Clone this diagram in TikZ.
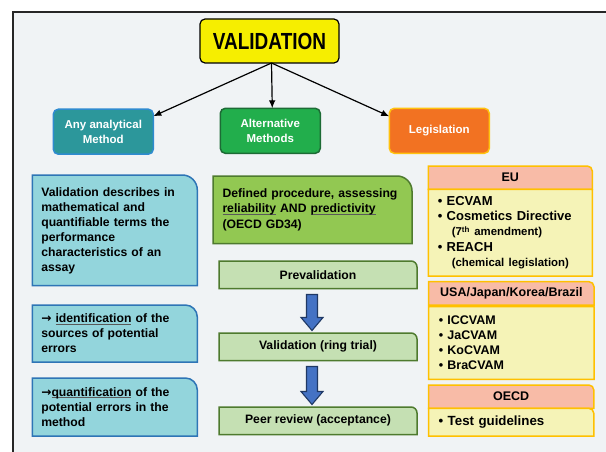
\documentclass[tikz,border=0pt]{standalone}
\usepackage{graphicx}
\usepackage{fontspec}
\setmainfont{Liberation Sans}
\newfontfamily\arrowfont{DejaVu Sans}
\usetikzlibrary{positioning, arrows.meta, calc}

\definecolor{bgcol}{HTML}{F0F3F5}
\definecolor{valfill}{HTML}{F6EE00}
\definecolor{anyfill}{HTML}{2C979B}
\definecolor{anyline}{HTML}{2F8BD0}
\definecolor{altfill}{HTML}{22AE4C}
\definecolor{altline}{HTML}{1D6B35}
\definecolor{legfill}{HTML}{F27222}
\definecolor{legline}{HTML}{FFC20E}
\definecolor{lfill}{HTML}{93D5DC}
\definecolor{lline}{HTML}{2E75B6}
\definecolor{deffill}{HTML}{92C852}
\definecolor{stepfill}{HTML}{C5E0B3}
\definecolor{stepline}{HTML}{4E7A2E}
\definecolor{arrfill}{HTML}{4472C4}
\definecolor{arrline}{HTML}{1F3864}
\definecolor{headfill}{HTML}{F8BBA7}
\definecolor{bodyfill}{HTML}{F5F3B7}
\definecolor{rline}{HTML}{FFC000}

\pgfdeclarelayer{boxes}
\pgfsetlayers{boxes,main}

% underline just below the baseline
\newsavebox\ulbox
\newcommand\ulword[1]{\sbox\ulbox{#1}\leavevmode
  \rlap{\color{black!65}\rule[-1.7pt]{\wd\ulbox}{0.8pt}}\usebox\ulbox}
\newcommand\rarr{{\arrowfont\bfseries →}}

% box with only the top right corner rounded, drawn under the node text
\newcommand\tabbox[3]{%
  \begin{pgfonlayer}{boxes}
    \draw[#3] (#1.south west) -- (#1.north west) -- ([xshift=-#2]#1.north east)
      arc[start angle=90, end angle=0, radius=#2] -- (#1.south east) -- cycle;
  \end{pgfonlayer}}

% thick blue arrow between two step boxes
\newcommand\blockarrow[2]{%
  \draw[barrow] let \p1=(#1.south), \p2=(#2.north) in
    (\x1-11.5pt,\y1-6pt) -- (\x1-0.5pt,\y1-6pt) -- (\x1-0.5pt,\y2+15.5pt)
    -- (\x1+5pt,\y2+15.5pt) -- (\x1-6pt,\y2+2.5pt) -- (\x1-17pt,\y2+15.5pt)
    -- (\x1-11.5pt,\y2+15.5pt) -- cycle;}

\begin{document}
\begin{tikzpicture}[x=1pt, y=1pt,
    every node/.style={outer sep=0pt, inner sep=0pt},
    hdr/.style={draw, rounded corners=5pt, line width=1.5pt, minimum width=100pt,
      minimum height=45pt, text=white, align=center,
      font=\bfseries\fontsize{11.5}{15}\selectfont},
    lbox/.style={minimum width=165pt, text width=147pt, inner xsep=9pt, align=left,
      font=\bfseries\fontsize{12.2}{15}\selectfont},
    stepbox/.style={minimum width=198pt, minimum height=27.5pt, align=center,
      font=\bfseries\fontsize{12.2}{15}\selectfont},
    rhead/.style={minimum width=164pt, minimum height=23.3pt, align=center,
      font=\bfseries\fontsize{12.5}{15}\selectfont},
    rbody/.style={minimum width=164pt, text width=145pt, inner xsep=9.5pt, align=left},
    barrow/.style={fill=arrfill, draw=arrline, line width=1.1pt, line join=miter},
    link/.style={line width=1.2pt, -{Latex[length=8pt, width=6.5pt]}}]

    \useasboundingbox (0,0) rectangle (606,-452);
    \begin{pgfonlayer}{boxes}
      \fill[white] (0,0) rectangle (606,-452);
      \fill[bgcol] (13,-12) rectangle (606,-452);
      \draw[line width=2pt, black!85] (606,-12) -- (13,-12) -- (13,-452);
    \end{pgfonlayer}

    % top of the tree
    \node(val)[draw, line width=1.2pt, rounded corners=5pt, fill=valfill,
      minimum width=139pt, minimum height=44pt] at (269.5,-41)
      {\scalebox{0.815}[1]{\bfseries\fontsize{23.3}{24}\selectfont VALIDATION}};
    \node(any)[hdr, fill=anyfill, draw=anyline] at (103.3,-131.7) {Any analytical\\Method};
    \node(alt)[hdr, fill=altfill, draw=altline] at (270.3,-130.8) {Alternative\\Methods};
    \node(leg)[hdr, fill=legfill, draw=legline] at (439.3,-130.8) {Legislation};

    \draw[link] ([xshift=2pt]val.south) -- ([yshift=-7pt]any.north east);
    \draw[link] ([xshift=2pt]val.south) -- ([xshift=2pt]alt.north);
    \draw[link] ([xshift=2pt]val.south) -- ([yshift=-8pt]leg.north west);

    % analytical method
    \node(desc)[lbox, anchor=north west, minimum height=110.7pt] at (32.3,-175)
      {Validation describes in\\mathematical and\\quantifiable terms the\\performance\\characteristics of an\\assay};
    \node(ident)[lbox, minimum height=57pt, below=19.3pt of desc]
      {\rarr\ \ulword{identification} of the\\sources of potential\\errors};
    \node(quant)[lbox, minimum height=58pt, below=16pt of ident]
      {\rarr\ulword{quantification} of the\\potential errors in the\\method};
    \tabbox{desc}{15pt}{fill=lfill, draw=lline, line width=1.5pt}
    \tabbox{ident}{12pt}{fill=lfill, draw=lline, line width=1.5pt}
    \tabbox{quant}{12pt}{fill=lfill, draw=lline, line width=1.5pt}

    % alternative methods
    \node(defproc)[anchor=north west, minimum width=199pt, minimum height=67.5pt,
      text width=180pt, inner xsep=9.5pt, align=left,
      font=\bfseries\fontsize{12.2}{15.5}\selectfont] at (213,-176)
      {Defined procedure, assessing\\\ulword{reliability} AND \ulword{predictivity}\\(OECD GD34)};
    \node(prev)[stepbox, anchor=north west] at (219,-261) {Prevalidation};
    \node(ring)[stepbox, below=44.5pt of prev] {Validation (ring trial)};
    \node(peer)[stepbox, below=46.5pt of ring] {Peer review (acceptance)};
    \tabbox{defproc}{15pt}{fill=deffill, draw=stepline, line width=1.5pt}
    \tabbox{prev}{6pt}{fill=stepfill, draw=stepline, line width=1.5pt}
    \tabbox{ring}{6pt}{fill=stepfill, draw=stepline, line width=1.5pt}
    \tabbox{peer}{6pt}{fill=stepfill, draw=stepline, line width=1.5pt}
    \blockarrow{prev}{ring}
    \blockarrow{ring}{peer}

    % legislation
    \node(euh)[rhead, anchor=north west] at (428.3,-166) {EU};
    \node(eub)[rbody, minimum height=86.7pt, below=0pt of euh,
      font=\bfseries\fontsize{13}{15.25}\selectfont]
      {\textbullet\ ECVAM\\\textbullet\ Cosmetics Directive\\
       \hspace*{14pt}{\fontsize{11.4}{15.25}\selectfont(7\textsuperscript{th} amendment)}\\
       \textbullet\ REACH\\
       \hspace*{14pt}{\fontsize{11.4}{15.25}\selectfont(chemical legislation)}};
    \node(ush)[rhead, anchor=north west, minimum width=165.3pt] at (428.7,-281.7)
      {USA/Japan/Korea/Brazil};
    \node(usb)[rbody, minimum width=165.3pt, minimum height=72.6pt, below=1.7pt of ush,
      font=\bfseries\fontsize{12.5}{15}\selectfont]
      {\textbullet\ ICCVAM\\\textbullet\ JaCVAM\\\textbullet\ KoCVAM\\\textbullet\ BraCVAM};
    \node(oeh)[rhead, anchor=north west, minimum width=165.3pt] at (428.5,-385) {OECD};
    \node(oeb)[rbody, minimum width=165.3pt, minimum height=27.7pt, below=0pt of oeh,
      font=\bfseries\fontsize{13.3}{15}\selectfont] {\textbullet\ Test guidelines};
    \tabbox{euh}{5pt}{fill=headfill, draw=rline, line width=1.5pt}
    \tabbox{eub}{0.1pt}{fill=bodyfill, draw=rline, line width=1.5pt}
    \tabbox{ush}{5pt}{fill=headfill, draw=rline, line width=1.5pt}
    \tabbox{usb}{0.1pt}{fill=bodyfill, draw=rline, line width=1.5pt}
    \tabbox{oeh}{5pt}{fill=headfill, draw=rline, line width=1.5pt}
    \tabbox{oeb}{5pt}{fill=bodyfill, draw=rline, line width=1.5pt}
  \end{tikzpicture}
\end{document}
